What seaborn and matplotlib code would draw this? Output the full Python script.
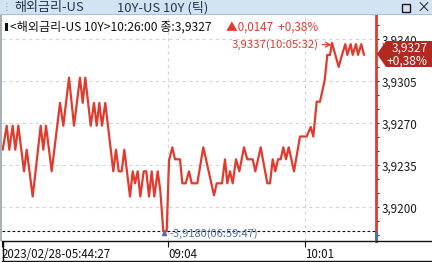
import matplotlib
matplotlib.use("Agg")
import matplotlib.pyplot as plt
import seaborn as sns
import pandas as pd
from matplotlib.lines import Line2D
from matplotlib.patches import Rectangle, Polygon
from matplotlib.ticker import FixedLocator, MultipleLocator
import matplotlib.transforms as mtrans

# ---------------- data ----------------
tick_pos = [2.7, 6.7, 9.3, 12.7, 15.3, 18.3, 24.0, 26.7, 32.7, 40.7, 43.3, 46.0, 51.7,
            60.0, 63.3, 69.0, 74.0, 80.0, 82.7, 85.3, 90.7, 94.0, 96.7, 99.3, 102.0, 105.3,
            113.3, 116.0, 118.7, 121.7, 124.3, 130.0, 132.7, 135.0, 137.7, 140.3, 143.7,
            146.3, 149.0, 151.7, 154.3, 157.7, 160.3, 163.3, 166.7, 169.0, 172.3, 175.0,
            180.0, 182.3, 185.7, 189.0, 191.7, 197.3, 203.3, 214.0, 216.7, 222.0, 225.0,
            227.3, 230.0, 232.7, 236.0, 239.3, 244.0, 247.3, 252.7, 255.3, 260.7, 267.3,
            270.0, 272.7, 275.3, 278.0, 280.7, 283.3, 286.0, 288.7, 294.0, 300.0, 306.7,
            310.7, 313.3, 316.7, 320.0, 324.7, 327.3, 330.0, 332.0, 338.7, 342.0, 345.3,
            347.3, 350.7, 352.7, 356.0, 358.0, 361.3, 364.0]
yields = [3.9248, 3.9268, 3.9248, 3.9268, 3.9248, 3.9268, 3.9230, 3.9248, 3.9209, 3.9268,
          3.9248, 3.9268, 3.9230, 3.9287, 3.9268, 3.9308, 3.9268, 3.9308, 3.9287, 3.9308,
          3.9268, 3.9287, 3.9268, 3.9287, 3.9268, 3.9287, 3.9230, 3.9248, 3.9230, 3.9230,
          3.9248, 3.9209, 3.9230, 3.9220, 3.9230, 3.9209, 3.9230, 3.9230, 3.9209, 3.9230,
          3.9209, 3.9230, 3.9214, 3.9180, 3.9180, 3.9239, 3.9250, 3.9240, 3.9240, 3.9220,
          3.9220, 3.9230, 3.9220, 3.9220, 3.9250, 3.9210, 3.9220, 3.9220, 3.9240, 3.9220,
          3.9230, 3.9220, 3.9240, 3.9230, 3.9250, 3.9240, 3.9240, 3.9230, 3.9250, 3.9220,
          3.9220, 3.9240, 3.9230, 3.9240, 3.9240, 3.9250, 3.9240, 3.9250, 3.9230, 3.9259,
          3.9259, 3.9267, 3.9259, 3.9288, 3.9288, 3.9306, 3.9327, 3.9327, 3.9337, 3.9317,
          3.9327, 3.9336, 3.9327, 3.9336, 3.9327, 3.9336, 3.9327, 3.9336, 3.9327]

y_ticks = [3.9200, 3.9235, 3.9270, 3.9305, 3.9340]
y_tick_labels = ["3,9200", "3,9235", "3,9270", "3,9305", "3,9340"]
x_ticks = [2.0, 168.0, 305.0]
x_tick_labels = ["2023/02/28-05:44:27", "09:04", "10:01"]

prev_close = 3.9180
last_value = 3.9327
high_value = 3.9337
high_pos = 332.0
low_value = 3.9180
low_pos = 164.0

title_left = "해외금리-US"
title_right = "10Y-US 10Y (틱)"
info_text = "<해외금리-US 10Y>10:26:00 종:3,9327"
info_change = "▲0,0147  +0,38%"
high_label = "3,9337(10:05:32)"
low_label = "3,9180(06:59:47)"
badge_lines = ["3,9327", "+0,38%"]

# ---------------- style ----------------
sns.set_theme(style="white")
plt.rcParams["font.family"] = ["Noto Sans CJK KR", "DejaVu Sans"]

W, H = 432, 262
fig = plt.figure(figsize=(W / 100, H / 100), dpi=100)
fig.patch.set_facecolor("white")

def fx(px):
    return px / W

def fy(py):
    return 1 - py / H

# axes placement (pixels)
ax_l, ax_r, ax_t, ax_b = 2, 376, 15, 241
ax = fig.add_axes([fx(ax_l), fy(ax_b), fx(ax_r - ax_l), (ax_b - ax_t) / H])
ax.set_facecolor("white")

RED = "#e23a2c"
BLUE = "#4e6fa3"

df = pd.DataFrame({"pos": tick_pos, "yield": yields})
sns.lineplot(data=df, x="pos", y="yield", ax=ax, color=RED, linewidth=1.6,
             estimator=None, sort=False, zorder=5)

ax.set_xlim(ax_l, ax_r)
y_top = 3.9340 + (39.3 - ax_t) / 12000
y_bot = 3.9340 - (ax_b - 39.3) / 12000
ax.set_ylim(y_bot, y_top)
ax.set_xlabel("")
ax.set_ylabel("")

# grid
for yv in y_ticks:
    ax.axhline(yv, color="#d4d4d4", lw=0.8, ls=(0, (3, 3)), zorder=1)
for xv in x_ticks[1:]:
    ax.axvline(xv, color="#d4d4d4", lw=0.8, ls=(0, (3, 3)), zorder=1)

# previous close dashed line
ax.axhline(prev_close, color="#111111", lw=0.8, ls=(0, (2.5, 2)), zorder=3)

# spines
for s in ["top", "left"]:
    ax.spines[s].set_visible(False)
ax.spines["right"].set_color(RED)
ax.spines["right"].set_linewidth(2.0)
ax.spines["bottom"].set_color("#111111")
ax.spines["bottom"].set_linewidth(1.0)
trans = mtrans.blended_transform_factory(ax.transAxes, ax.transData)
ax.plot([1, 1], [y_bot, prev_close], transform=trans, color=BLUE, lw=2.2,
        clip_on=False, zorder=6, solid_capstyle="butt")

# y ticks on right
ax.yaxis.tick_right()
ax.yaxis.set_major_locator(FixedLocator(y_ticks))
ax.set_yticklabels(y_tick_labels)
ax.yaxis.set_minor_locator(MultipleLocator(0.0035 / 3))
ax.tick_params(axis="y", which="major", direction="out", length=2.5, width=0.8,
               color="#333333", pad=1.5, labelsize=8.4, labelcolor="#1a1a1a")
ax.tick_params(axis="y", which="minor", direction="out", length=1.8, width=0.8,
               color="#333333", right=True)

# x ticks
ax.set_xticks(x_ticks)
ax.set_xticklabels(x_tick_labels)
for lbl in ax.get_xticklabels():
    lbl.set_ha("left")
ax.tick_params(axis="x", direction="out", length=4, width=0.8, color="#111111",
               pad=1.0, labelsize=8.3, labelcolor="#111111", bottom=True)

# high annotation
ax.annotate(high_label, xy=(high_pos - 0.5, high_value - 0.00015),
            xytext=(232, high_value - 0.00015), textcoords="data",
            color=RED, fontsize=8.2, va="center", ha="left",
            arrowprops=dict(arrowstyle="->", color=RED, lw=0.9,
                            shrinkA=0, shrinkB=0), zorder=7)

# low annotation
ax.plot([low_pos], [low_value - 0.00012], marker="^", color=BLUE, markersize=3,
        zorder=7)
ax.text(169, low_value - 0.00022, "-" + low_label, color=BLUE, fontsize=8.0,
        va="center", ha="left", zorder=7)

# ---------------- chrome ----------------
# title bar
fig.add_artist(Rectangle((0, fy(14)), 1, 14 / H, transform=fig.transFigure,
                         facecolor="#d3e3f1", edgecolor="none", zorder=0))
fig.add_artist(Line2D([0, 1], [fy(14), fy(14)], transform=fig.transFigure,
                      color="#aac2d8", lw=0.8))
fig.text(fx(1.5), fy(7), "⋮", fontsize=7, color="#8aa0b8", va="center", ha="left")
fig.text(fx(14), fy(7.5), title_left, fontsize=9.4, color="#243650", va="center", ha="left")
fig.text(fx(117), fy(7.5), title_right, fontsize=9.4, color="#243650", va="center", ha="left")
fig.add_artist(Rectangle((fx(402), fy(12)), 8 / W, 8 / H, transform=fig.transFigure,
                         facecolor="none", edgecolor="#1a1a1a", lw=1.0))
fig.text(fx(423), fy(7.5), "×", fontsize=10, color="#1a1a1a", va="center", ha="center")

# left gray bar
fig.add_artist(Rectangle((0, fy(ax_b)), 2 / W, (ax_b - 14) / H, transform=fig.transFigure,
                         facecolor="#a9b0b8", edgecolor="none"))

# info line
fig.add_artist(Rectangle((fx(5), fy(31)), 2.5 / W, 8 / H, transform=fig.transFigure,
                         facecolor="#111111", edgecolor="none"))
fig.text(fx(10), fy(27), info_text, fontsize=8.7, color="#111111", va="center", ha="left")
fig.text(fx(226), fy(27), info_change, fontsize=8.4, color=RED, va="center", ha="left")

# x-axis band lines
fig.add_artist(Line2D([fx(ax_r), 1], [fy(ax_b), fy(ax_b)], transform=fig.transFigure,
                      color="#111111", lw=1.0))
fig.add_artist(Line2D([fx(2), 1], [fy(260.5), fy(260.5)], transform=fig.transFigure,
                      color="#111111", lw=1.0))
fig.add_artist(Line2D([fx(2.5), fx(2.5)], [fy(ax_b), fy(260.5)], transform=fig.transFigure,
                      color="#111111", lw=1.0))

# last value badge
badge = Polygon([(fx(377), fy(54)), (fx(386), fy(41)), (1, fy(41)),
                 (1, fy(67)), (fx(386), fy(67))], closed=True,
                transform=fig.transFigure, facecolor="#b3281f", edgecolor="none",
                zorder=10)
fig.add_artist(badge)
fig.text(fx(428), fy(48), badge_lines[0], fontsize=8.6, color="white",
         va="center", ha="right", zorder=11)
fig.text(fx(428), fy(61), badge_lines[1], fontsize=8.6, color="white",
         va="center", ha="right", zorder=11)

fig.savefig("out.png", dpi=100)
